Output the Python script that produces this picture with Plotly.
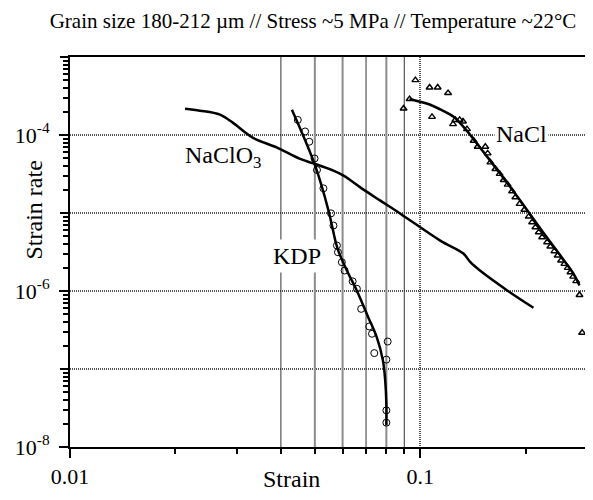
import plotly.graph_objects as go

# ---------------- data ----------------
naclo3_strain = [0.0213, 0.0235, 0.0268, 0.0292, 0.0333, 0.0390, 0.0454, 0.0495, 0.0565,
                 0.0604, 0.0674, 0.0769, 0.0877, 0.114, 0.1327, 0.139, 0.148, 0.1775, 0.2104]
naclo3_rate = [2.17e-4, 2.05e-4, 1.82e-4, 1.43e-4, 9.2e-5, 6.9e-5, 4.93e-5, 4.33e-5, 3.49e-5,
               3.01e-5, 2.13e-5, 1.44e-5, 9.8e-6, 4.43e-6, 3.02e-6, 2.34e-6, 1.83e-6, 1.01e-6, 6.1e-7]

kdp_fit_strain = [0.0430, 0.0501, 0.0547, 0.0572, 0.0583, 0.0617, 0.0659, 0.0710, 0.0751,
                  0.0782, 0.0794, 0.0800, 0.0800]
kdp_fit_rate = [2.11e-4, 4.05e-5, 1.07e-5, 4.43e-6, 3.3e-6, 1.83e-6, 1.01e-6, 4.62e-7, 2.56e-7,
                1.29e-7, 7.1e-8, 3.6e-8, 1.9e-8]

kdp_strain = [0.0447, 0.0469, 0.0482, 0.0499, 0.0507, 0.0529, 0.0556, 0.0565, 0.0578, 0.0582,
              0.0597, 0.0608, 0.0641, 0.0659, 0.0678, 0.0715, 0.0728, 0.0807, 0.0739, 0.0800,
              0.0800, 0.0800]
kdp_rate = [1.56e-4, 1.11e-4, 8.2e-5, 5.0e-5, 3.56e-5, 2.07e-5, 9.9e-6, 6.9e-6, 3.83e-6, 3.14e-6,
            2.34e-6, 1.83e-6, 1.33e-6, 1.07e-6, 5.9e-7, 3.51e-7, 2.83e-7, 2.25e-7, 1.6e-7, 1.32e-7,
            2.95e-8, 2.05e-8]

nacl_strain = [0.0896, 0.0932, 0.0968, 0.1063, 0.1121, 0.1200, 0.1080, 0.1240, 0.1259, 0.1295,
               0.1324, 0.1359, 0.1420, 0.1458, 0.1533, 0.1557, 0.1585, 0.1638, 0.1685, 0.1730,
               0.1776, 0.1828, 0.1868, 0.1921, 0.1982, 0.2039, 0.2085, 0.2131, 0.2178, 0.2227,
               0.2301, 0.2351, 0.2414, 0.2467, 0.2523, 0.2578, 0.2635, 0.2683, 0.2731, 0.2786,
               0.2847, 0.2897]
nacl_rate = [2.19e-4, 2.89e-4, 5.06e-4, 4.07e-4, 4.07e-4, 3.45e-4, 1.71e-4, 1.38e-4, 1.56e-4, 1.56e-4,
             1.49e-4, 1.19e-4, 8.45e-5, 7.08e-5, 7.08e-5, 5.81e-5, 4.46e-5, 3.67e-5, 3.17e-5, 2.65e-5,
             2.31e-5, 1.90e-5, 1.59e-5, 1.31e-5, 1.10e-5, 9.0e-6, 7.6e-6, 6.56e-6, 5.66e-6, 4.89e-6,
             4.22e-6, 3.72e-6, 3.24e-6, 2.85e-6, 2.46e-6, 2.23e-6, 1.98e-6, 1.74e-6, 1.53e-6, 1.34e-6,
             8.9e-7, 2.92e-7]

nacl_fit_strain = [0.0932, 0.1068, 0.1245, 0.1359, 0.1484, 0.1693, 0.1931, 0.2203, 0.2512,
                   0.2736, 0.2847]
nacl_fit_rate = [2.89e-4, 2.44e-4, 1.71e-4, 1.13e-4, 6.82e-5, 3.17e-5, 1.44e-5, 6.3e-6, 2.85e-6,
                 1.67e-6, 1.18e-6]

x_major = [0.01, 0.1]
x_major_labels = ["0.01", "0.1"]
x_minor = [0.02, 0.03, 0.04, 0.05, 0.06, 0.07, 0.08, 0.09, 0.2, 0.3]
y_labeled = [1e-8, 1e-6, 1e-4]
y_labels = ["10<sup>-8</sup>", "10<sup>-6</sup>", "10<sup>-4</sup>"]
y_unlabeled = [1e-7, 1e-5, 1e-3]
y_minor = [k * 10.0 ** e for e in range(-8, -3) for k in range(2, 10)]

grid_dark = [0.04, 0.07, 0.09]
grid_gray = [0.05, 0.06, 0.08]
y_span = [1e-8, 1e-3]

title_text = "Grain size 180-212 µm // Stress ~5 MPa // Temperature ~22°C"
FONT = "Liberation Serif, Times New Roman, serif"

# the page body has an 8px margin, so the figure is sized to fit inside it
W, H = 585, 492

fig = go.Figure()

for v in grid_gray:
    fig.add_trace(go.Scatter(x=[v, v], y=y_span, mode="lines",
                             line=dict(color="#8c8c8c", width=2), hoverinfo="skip", showlegend=False))
for v in grid_dark:
    fig.add_trace(go.Scatter(x=[v, v], y=y_span, mode="lines",
                             line=dict(color="#333333", width=1), hoverinfo="skip", showlegend=False))

fig.add_trace(go.Scatter(x=naclo3_strain, y=naclo3_rate, mode="lines", line_shape="spline",
                         line=dict(color="black", width=2.5), showlegend=False))
fig.add_trace(go.Scatter(x=kdp_fit_strain, y=kdp_fit_rate, mode="lines", line_shape="spline",
                         line=dict(color="black", width=2.5), showlegend=False))
fig.add_trace(go.Scatter(x=kdp_strain, y=kdp_rate, mode="markers",
                         marker=dict(symbol="circle-open", size=7, color="black", line=dict(width=1)),
                         showlegend=False))
fig.add_trace(go.Scatter(x=nacl_fit_strain, y=nacl_fit_rate, mode="lines", line_shape="spline",
                         line=dict(color="black", width=2.5, smoothing=0.6), showlegend=False))
fig.add_trace(go.Scatter(x=nacl_strain, y=nacl_rate, mode="markers",
                         marker=dict(symbol="triangle-up-open", size=6, color="black", line=dict(width=1.4)),
                         showlegend=False))

fig.update_layout(
    width=W, height=H,
    margin=dict(l=62, r=7, t=49, b=53),
    paper_bgcolor="white", plot_bgcolor="white",
    font=dict(family=FONT, size=22, color="black"),
    title=dict(text=title_text, x=305 / W, xanchor="center", y=1 - 13 / H, yanchor="middle",
               font=dict(family=FONT, size=21, color="black")),
    showlegend=False,
)

grid_style = dict(showgrid=True, gridcolor="#555555", gridwidth=2, griddash="1px,1px")

fig.update_xaxes(
    type="log", range=[-2, -0.527], automargin=False,
    tickmode="array", tickvals=x_major, ticktext=x_major_labels,
    ticks="outside", ticklen=9, tickwidth=1.5, tickcolor="black",
    ticklabelstandoff=0,
    showline=True, linecolor="black", linewidth=2, mirror=True,
    zeroline=False,
    minor=dict(tickmode="array", tickvals=x_minor, ticks="outside", ticklen=5, tickwidth=1.5,
               tickcolor="black", showgrid=False),
    **grid_style,
)
fig.update_yaxes(
    type="log", range=[-8, -3], automargin=False,
    tickmode="array", tickvals=y_labeled, ticktext=y_labels,
    ticks="outside", ticklen=9, tickwidth=1.5, tickcolor="black",
    ticklabelstandoff=5,
    showline=True, linecolor="black", linewidth=2, mirror=True,
    zeroline=False,
    minor=dict(tickmode="array", tickvals=y_minor, ticks="outside", ticklen=5, tickwidth=1.5,
               tickcolor="black", showgrid=False),
    **grid_style,
)
# unlabeled decades: long ticks + grid, on an overlaid axis with the same scale
fig.update_layout(yaxis2=dict(
    type="log", range=[-8, -3], overlaying="y", side="left", automargin=False,
    tickmode="array", tickvals=y_unlabeled, showticklabels=False,
    ticks="outside", ticklen=9, tickwidth=1.5, tickcolor="black",
    showline=False, zeroline=False, **grid_style,
))
fig.add_trace(go.Scatter(x=naclo3_strain, y=naclo3_rate, yaxis="y2", mode="lines",
                         line=dict(color="rgba(0,0,0,0)", width=0), hoverinfo="skip", showlegend=False))

# axis titles placed as in the reference (plot area spans 516 x 390 px)
fig.add_annotation(text="Strain", xref="paper", yref="paper", x=(291.7 - 70) / 516, y=(447 - 479) / 390,
                   xanchor="center", yanchor="middle", showarrow=False, font=dict(size=24))
fig.add_annotation(text="Strain rate", xref="paper", yref="paper", x=(33.5 - 70) / 516, y=(447 - 210) / 390,
                   xanchor="center", yanchor="middle", textangle=-90, showarrow=False, font=dict(size=24))

# series labels (log10 coordinates)
fig.add_annotation(text="NaClO<sub>3</sub>", x=-1.564, y=-4.28, xref="x", yref="y",
                   showarrow=False, font=dict(size=24))
fig.add_annotation(text="KDP", x=-1.353, y=-5.545, xref="x", yref="y", showarrow=False,
                   font=dict(size=24), bgcolor="white", borderpad=3)
fig.add_annotation(text="NaCl", x=-0.711, y=-3.983, xref="x", yref="y", showarrow=False,
                   font=dict(size=24), bgcolor="white", borderpad=1)

fig.write_html("out.html")
